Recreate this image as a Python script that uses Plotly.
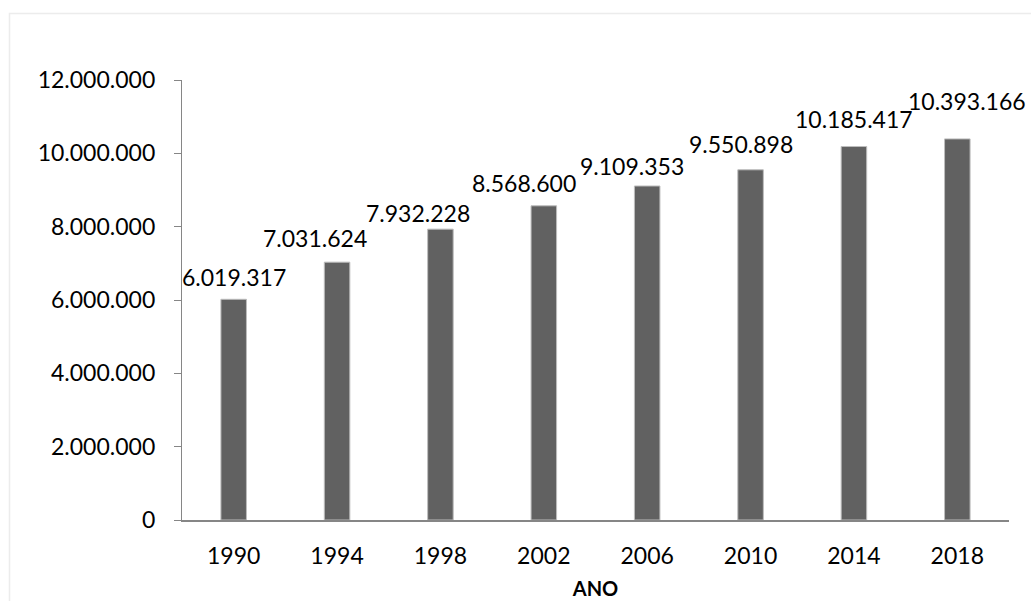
import plotly.graph_objects as go

# Population per survey year
anos = ["1990", "1994", "1998", "2002", "2006", "2010", "2014", "2018"]
valores = [6019317, 7031624, 7932228, 8568600, 9109353, 9550898, 10185417, 10393166]

# Label nudges (pixels) so neighbouring value labels do not collide
label_dx = [0, -22, -22, -20, -15, -10, 0, 10]
label_dy = [6, 8, 0, 7, 4, 10, 12, 22]

FONT = "Lato, 'Open Sans', sans-serif"
AXIS_COLOR = "#868686"


def fmt(v):
    return f"{v:,}".replace(",", ".")


fig = go.Figure()
fig.add_trace(go.Bar(
    x=anos,
    y=valores,
    marker=dict(color="#616161", line=dict(color="#bdbdbd", width=1)),
    hoverinfo="x+y",
))

# Value labels placed by category index on the category axis
for i, (v, dx, dy) in enumerate(zip(valores, label_dx, label_dy)):
    fig.add_annotation(
        x=i, y=v, text=fmt(v), showarrow=False,
        xanchor="center", yanchor="bottom", xshift=dx, yshift=dy,
        font=dict(family=FONT, size=23, color="black"),
    )

# Light frame around the whole chart area
fig.add_shape(
    type="rect", xref="paper", yref="paper",
    x0=(9.5 - 182) / 827, x1=(1040 - 182) / 827,
    y0=(520 - 610) / 440, y1=(520 - 13.5) / 440,
    line=dict(color="#ececec", width=1.5), fillcolor="rgba(0,0,0,0)", layer="below",
)

fig.update_layout(
    width=1031, height=601,
    margin=dict(l=182, r=22, t=80, b=81),
    paper_bgcolor="white", plot_bgcolor="white",
    bargap=0.753,
    separators=",.",
    showlegend=False,
    font=dict(family=FONT, size=23, color="black"),
    xaxis=dict(
        type="category",
        categoryorder="array", categoryarray=anos,
        range=[-0.5, len(anos) - 0.5],
        automargin=False,
        showline=True, linecolor=AXIS_COLOR, linewidth=2,
        ticks="", showgrid=False, zeroline=False,
        tickfont=dict(family=FONT, size=23, color="black"),
        ticklabelstandoff=14,
        title=dict(text="<b>ANO</b>", font=dict(family=FONT, size=20, color="black"), standoff=14),
    ),
    yaxis=dict(
        range=[0, 12000000],
        tickvals=[0, 2000000, 4000000, 6000000, 8000000, 10000000, 12000000],
        tickformat=",d",
        automargin=False,
        showline=True, linecolor=AXIS_COLOR, linewidth=1.3,
        ticks="outside", ticklen=7, tickcolor=AXIS_COLOR, tickwidth=1.3,
        showgrid=False, zeroline=False,
        tickfont=dict(family=FONT, size=23, color="black"),
        ticklabelstandoff=14,
    ),
)

fig.write_html("out.html")
